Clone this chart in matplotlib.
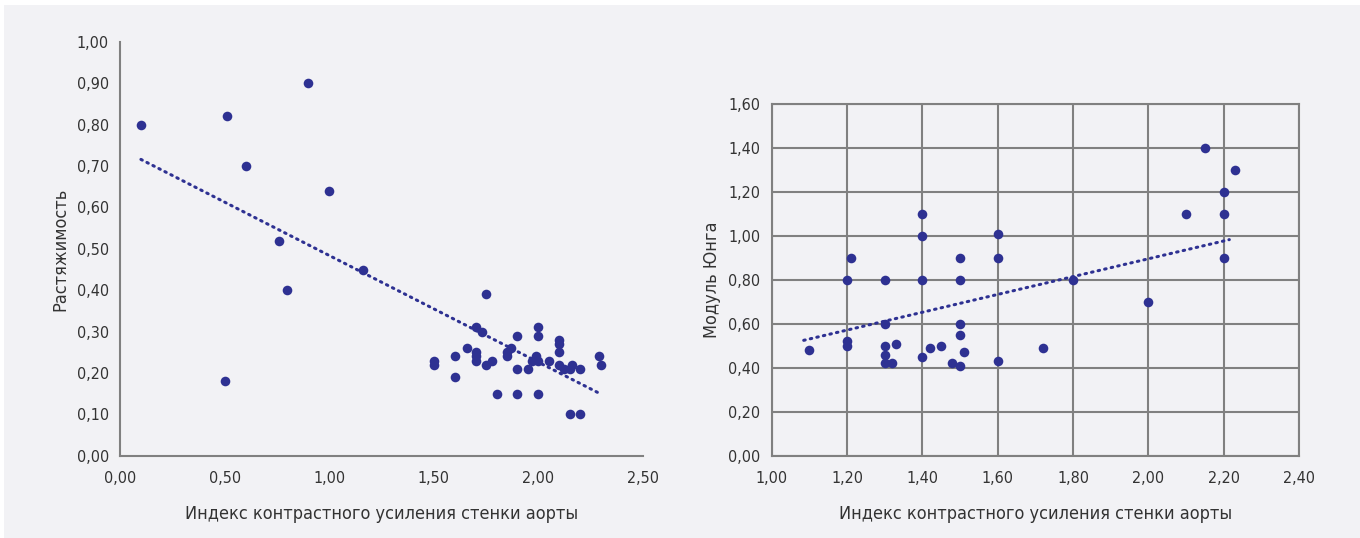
import numpy as np
import matplotlib
matplotlib.use("Agg")
import matplotlib.pyplot as plt
from matplotlib.patches import Rectangle

# левый график: индекс контрастного усиления vs растяжимость
x_rast = [0.10, 0.51, 0.60, 0.90, 1.00, 0.76, 0.80, 1.16, 0.50,
          1.75, 1.50, 1.50, 1.60, 1.60, 1.66, 1.70, 1.73, 1.70, 1.70, 1.70,
          1.75, 1.78, 1.80, 1.85, 1.85, 1.87, 1.90, 1.90, 1.90, 1.95, 1.97,
          1.99, 2.00, 2.00, 2.00, 2.00, 2.05, 2.10, 2.10, 2.10, 2.10, 2.12,
          2.15, 2.16, 2.20, 2.15, 2.20, 2.29, 2.30]
y_rast = [0.80, 0.82, 0.70, 0.90, 0.64, 0.52, 0.40, 0.45, 0.18,
          0.39, 0.23, 0.22, 0.24, 0.19, 0.26, 0.31, 0.30, 0.25, 0.24, 0.23,
          0.22, 0.23, 0.15, 0.25, 0.24, 0.26, 0.29, 0.21, 0.15, 0.21, 0.23,
          0.24, 0.31, 0.29, 0.23, 0.15, 0.23, 0.28, 0.27, 0.25, 0.22, 0.21,
          0.21, 0.22, 0.21, 0.10, 0.10, 0.24, 0.22]
trend_rast = [-0.258, 0.742]   # наклон, сдвиг линии тренда
range_rast = [0.10, 2.30]

# правый график: индекс vs модуль Юнга
x_yung = [1.10, 1.20, 1.21, 1.20, 1.20, 1.30, 1.30, 1.30, 1.30, 1.30, 1.32,
          1.33, 1.40, 1.40, 1.40, 1.40, 1.42, 1.45, 1.48, 1.50, 1.50, 1.50,
          1.50, 1.50, 1.51, 1.60, 1.60, 1.60, 1.72, 1.80, 2.00, 2.10, 2.15,
          2.20, 2.20, 2.20, 2.23]
y_yung = [0.48, 0.80, 0.90, 0.52, 0.50, 0.80, 0.60, 0.50, 0.46, 0.42, 0.42,
          0.51, 1.10, 1.00, 0.80, 0.45, 0.49, 0.50, 0.42, 0.41, 0.90, 0.80,
          0.60, 0.55, 0.47, 1.01, 0.90, 0.43, 0.49, 0.80, 0.70, 1.10, 1.40,
          1.20, 1.10, 0.90, 1.30]
trend_yung = [0.405, 0.085]
range_yung = [1.085, 2.215]

x_label = "Индекс контрастного усиления стенки аорты"
ticks_x_left = [0, 0.5, 1.0, 1.5, 2.0, 2.5]
ticks_y_left = [0.0, 0.1, 0.2, 0.3, 0.4, 0.5, 0.6, 0.7, 0.8, 0.9, 1.0]
ticks_x_right = [1.0, 1.2, 1.4, 1.6, 1.8, 2.0, 2.2, 2.4]
ticks_y_right = [0.0, 0.2, 0.4, 0.6, 0.8, 1.0, 1.2, 1.4, 1.6]

plt.rcParams['font.family'] = ['DejaVu Sans']
plt.rcParams['font.stretch'] = 'condensed'

bg = "#f2f2f5"
dot = "#2e3192"
gris = "#808080"
txt = "#333333"

fig = plt.figure(figsize=(13.6, 5.38), dpi=100, facecolor="white")
fig.patches.append(Rectangle((4/1360, 0), 1, 1 - 5/538, transform=fig.transFigure,
                             facecolor=bg, edgecolor="none", zorder=-10))

def virgula(v):
    return f"{v:.2f}".replace(".", ",")

def trend(ax, xr, coef):
    xx = np.array(xr)
    ax.plot(xx, coef[0]*xx + coef[1], linestyle=(0, (0.5, 1.7)), color=dot, lw=2.2,
            dash_capstyle="round", zorder=2)

# левый
ax1 = fig.add_axes([120/1360, 82.3/538, 523/1360, 413.7/538])
ax1.set_facecolor("none")
ax1.scatter(x_rast, y_rast, s=48, color=dot, zorder=3, linewidths=0)
trend(ax1, range_rast, trend_rast)
ax1.set_xlim(0, 2.5)
ax1.set_ylim(0, 1.0)
ax1.set_xticks(ticks_x_left)
ax1.set_xticklabels([virgula(v) for v in ticks_x_left])
ax1.set_yticks(ticks_y_left)
ax1.set_yticklabels([virgula(v) for v in ticks_y_left])
for s in ["top", "right"]:
    ax1.spines[s].set_visible(False)
for s in ["left", "bottom"]:
    ax1.spines[s].set_color(gris)
    ax1.spines[s].set_linewidth(1.5)
ax1.tick_params(length=0, labelsize=11.5, colors=txt, pad=8)
ax1.tick_params(axis="x", pad=11)
ax1.set_xlabel(x_label, fontsize=13, color=txt, labelpad=14)
ax1.set_ylabel("Растяжимость", fontsize=13, color=txt, labelpad=5)

# правый
ax2 = fig.add_axes([771.7/1360, 82.3/538, 527.3/1360, 352/538])
ax2.set_facecolor("none")
ax2.scatter(x_yung, y_yung, s=48, color=dot, zorder=3, linewidths=0)
trend(ax2, range_yung, trend_yung)
ax2.set_xlim(1.0, 2.4)
ax2.set_ylim(0, 1.6)
ax2.set_xticks(ticks_x_right)
ax2.set_xticklabels([virgula(v) for v in ticks_x_right])
ax2.set_yticks(ticks_y_right)
ax2.set_yticklabels([virgula(v) for v in ticks_y_right])
ax2.grid(True, color=gris, lw=1.5, zorder=1)
ax2.set_axisbelow(True)
for s in ax2.spines.values():
    s.set_color(gris)
    s.set_linewidth(1.5)
ax2.tick_params(length=0, labelsize=11.5, colors=txt, pad=8)
ax2.tick_params(axis="x", pad=11)
ax2.set_xlabel(x_label, fontsize=13, color=txt, labelpad=14)
ax2.set_ylabel("Модуль Юнга", fontsize=13, color=txt, labelpad=5)

fig.savefig("out.png", dpi=100, facecolor=fig.get_facecolor())
